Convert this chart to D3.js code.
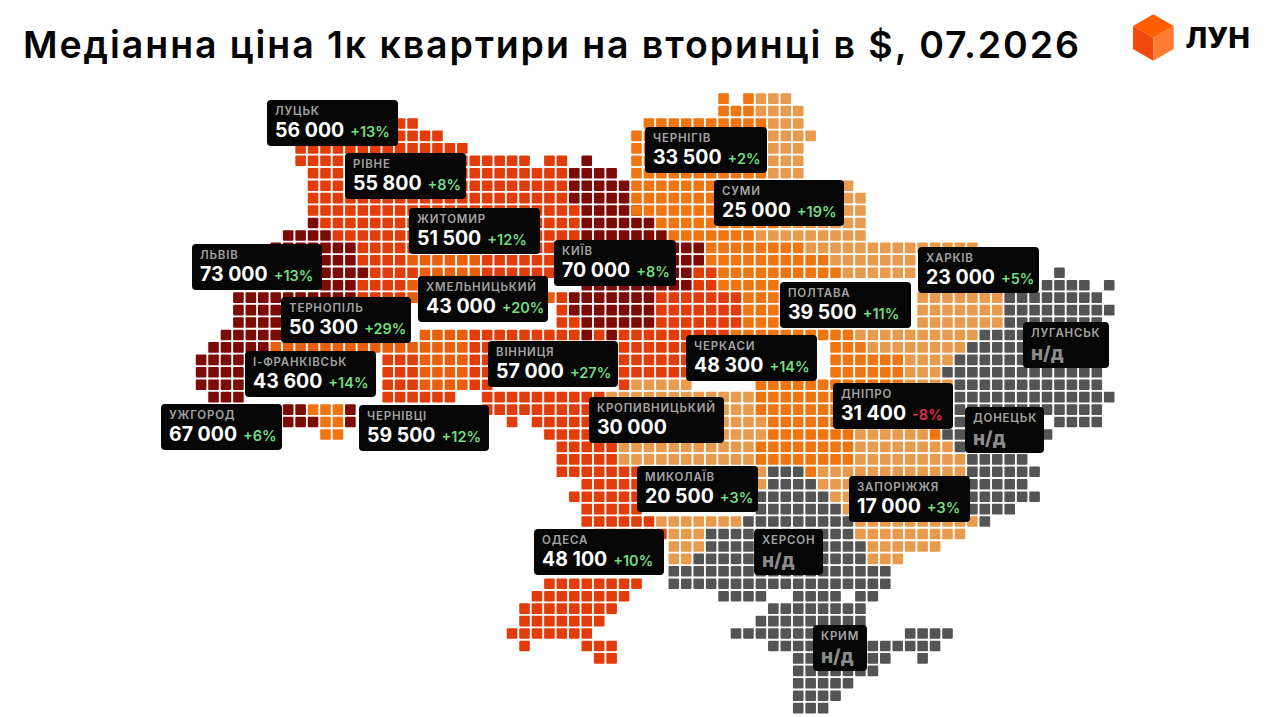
<!DOCTYPE html>
<html lang="uk">
<head>
<meta charset="utf-8">
<title>Медіанна ціна 1к квартири на вторинці</title>
<script src="https://cdn.jsdelivr.net/npm/d3@7/dist/d3.min.js"></script>
<style>
  body { margin: 0; background: #fff; }
  svg { display: block; }
  text { font-family: Inter, "Noto Sans", sans-serif; }
</style>
</head>
<body>
<script>
// map cells, one list per price band: [row, first column, last column]
const maroonCells = [
  [5,31,31],[6,30,33],[7,30,34],[8,30,34],[9,31,35],[10,9,9],[10,31,36],[11,7,10],[11,31,37],
  [12,6,12],[12,31,40],[13,10,12],[13,31,40],[14,10,13],[14,31,39],[15,10,12],[15,31,39],
  [16,3,12],[16,30,36],[17,3,6],[17,30,36],[18,3,6],[18,31,36],[19,2,6],[19,31,31],[19,33,33],
  [20,1,5],[21,0,3],[22,0,3],[23,0,3],[24,1,3],[25,7,8],[25,12,12],[26,7,9],[26,12,12]
]
const redCells = [
  [2,16,17],[3,16,19],[4,8,21],[5,8,26],[5,28,29],[6,9,29],[7,9,29],[8,9,29],[9,9,30],
  [10,10,30],[11,11,30],[12,13,30],[13,13,16],[13,23,30],[14,14,17],[14,23,30],[14,40,41],
  [15,13,16],[15,40,41],[16,13,16],[16,29,29],[16,37,43],[17,29,29],[17,37,43],[18,29,30],[18,37,43],
  [19,22,30],[19,32,32],[19,34,42],[20,22,23],[20,34,39],[21,15,17],[21,22,23],[21,34,39],
  [22,15,17],[22,22,23],[22,34,39],[23,15,17],[23,22,23],[23,34,34],[24,15,20],[24,23,32],
  [25,23,32],[26,25,25],[26,27,31],[27,28,31],[28,29,33],[29,29,33],[30,29,35],[31,31,35],
  [32,30,35],[33,31,35],[34,31,36],[35,32,37],[39,28,35],[40,27,34],[41,26,33],[42,26,32],
  [43,25,31],[44,26,26],[44,31,33],[45,32,33]
]
const deepOrangeCells = [
  [13,17,22],[14,18,22],[15,17,18],[16,17,28],[19,18,21],[20,6,21],[21,18,21],[22,18,21],[23,18,21]
]
const orangeCells = [
  [0,42,42],[0,44,44],[1,42,44],[2,36,45],[3,35,45],[4,35,45],[5,35,45],[6,35,45],[7,35,45],
  [8,35,46],[9,35,46],[10,37,46],[11,38,44],[12,41,48],[13,41,50],[14,42,51],
  [15,42,46],[16,44,46],[17,44,46],[18,44,46],[19,43,52],
  [20,51,53],[21,51,56],[22,51,56],[23,45,56],
  [24,45,56],[25,9,11],[25,45,56],[26,10,11],[26,46,52],[27,10,11],[27,46,52],[27,59,59],
  [28,45,52],[29,45,52],[30,49,49]
]
const lightCells = [
  [0,45,47],[1,45,48],[2,46,48],[3,46,49],[4,46,48],[5,46,48],[6,46,48],[7,46,52],[8,47,53],
  [9,47,53],[10,47,53],[11,45,53],[12,49,62],[13,51,57],[14,52,57],[16,58,64],[17,58,64],[18,58,64],
  [19,53,62],[20,54,61],[21,57,60],[22,57,59],[23,35,39],[23,57,60],[24,33,44],[24,57,60],
  [25,33,44],[25,57,60],[26,42,45],[26,53,60],[27,42,45],[27,53,58],[28,34,44],[28,53,60],
  [29,34,44],[29,53,61],[30,45,45],[30,50,61],[31,45,45],[31,50,61],[32,51,61],[33,52,61],
  [34,37,43],[34,53,62],[35,38,40],[35,53,61],[36,38,40],[36,54,59],[37,38,39],[37,54,56]
]
const noDataCells = [
  [14,69,69],[15,68,71],[15,73,73],[16,65,72],[17,65,73],[18,65,72],[19,63,66],[20,62,66],[21,61,66],
  [22,60,72],[23,61,72],[24,61,73],[25,61,72],[26,61,61],[26,69,72],[27,60,61],[27,68,68],[28,61,61],
  [29,62,66],[30,46,48],[30,62,67],[31,46,49],[31,62,66],[32,45,50],[32,62,67],[33,45,51],[33,62,65],
  [34,44,52],[34,63,63],[35,41,52],[36,41,53],[37,40,53],[38,38,55],[39,38,55],
  [40,42,45],[40,48,51],[40,53,54],[41,46,53],[42,45,53],[43,43,53],[43,57,60],[44,46,59],
  [45,48,55],[45,58,58],[46,48,54],[47,48,52],[48,48,51],[49,48,50]
]

// cards
const cities = ["ЛУЦЬК","РІВНЕ","ЖИТОМИР","ЛЬВІВ","ЧЕРНІГІВ","СУМИ","КИЇВ","ХАРКІВ","ПОЛТАВА","ЛУГАНСЬК","ТЕРНОПІЛЬ","ХМЕЛЬНИЦЬКИЙ","І-ФРАНКІВСЬК","УЖГОРОД","ЧЕРНІВЦІ","ВІННИЦЯ","ЧЕРКАСИ","КРОПИВНИЦЬКИЙ","МИКОЛАЇВ","ДНІПРО","ДОНЕЦЬК","ЗАПОРІЖЖЯ","ОДЕСА","ХЕРСОН","КРИМ"]
const prices = ["56 000","55 800","51 500","73 000","33 500","25 000","70 000","23 000","39 500",null,"50 300","43 000","43 600","67 000","59 500","57 000","48 300","30 000","20 500","31 400",null,"17 000","48 100",null,null]
const changes = ["+13%","+8%","+12%","+13%","+2%","+19%","+8%","+5%","+11%",null,"+29%","+20%","+14%","+6%","+12%","+27%","+14%",null,"+3%","-8%",null,"+3%","+10%",null,null]

// card boxes on the page, same order as cities: left, top, right
const cardBoxes = [[267,100,398],[345,153,466],[409,208,540],[192,244,322],[645,127,767],[714,180,844],[554,240,676],[918,247,1039],[780,282,911],[1023,322,1109],[281,297,411],[418,276,548],[245,351,376],[161,404,282],[359,405,489],[488,341,618],[686,335,817],[589,397,724],[637,466,758],[833,383,953],[965,407,1044],[849,476,970],[534,529,664],[754,529,823],[813,625,867]]
const cardHeight = 46

const width = 1271, height = 717

const x = d3.scaleBand().domain(d3.range(74)).range([195.8, 195.8 + 73 * 12.44 + 10.6]).paddingInner(0.148)
const y = d3.scaleBand().domain(d3.range(50)).range([93.3, 93.3 + 49 * 12.44 + 10.6]).paddingInner(0.148)

const color = d3.scaleOrdinal()
  .domain(["maroon", "red", "deepOrange", "orange", "light", "nodata"])
  .range(["#7c0a05", "#e23c0b", "#ea5f0e", "#ee7510", "#e89b4d", "#545454"])

const expand = (band, runs) => runs.flatMap(([row, from, to]) =>
  d3.range(from, to + 1).map(col => ({row, col, band})))

const cells = [
  ...expand("maroon", maroonCells),
  ...expand("red", redCells),
  ...expand("deepOrange", deepOrangeCells),
  ...expand("orange", orangeCells),
  ...expand("light", lightCells),
  ...expand("nodata", noDataCells)
]

const svg = d3.select("body").append("svg")
  .attr("width", width)
  .attr("height", height)

svg.append("text")
  .attr("x", 23)
  .attr("y", 58)
  .attr("font-size", 37.5)
  .attr("font-weight", 600)
  .attr("fill", "#050505")
  .attr("textLength", 1056)
  .attr("lengthAdjust", "spacing")
  .text("Медіанна ціна 1к квартири на вторинці в $, 07.2026")

// logo
const logo = svg.append("g")
logo.append("polygon").attr("points", "1153.3,14.3 1173.7,26 1153.3,37.7 1133,26").attr("fill", "#ff5f00")
logo.append("polygon").attr("points", "1133,26 1153.3,37.7 1153.3,60.7 1133,49").attr("fill", "#f34a0e")
logo.append("polygon").attr("points", "1173.7,26 1153.3,37.7 1153.3,60.7 1173.7,49").attr("fill", "#ff7a33")
logo.append("text")
  .attr("x", 1185.5)
  .attr("y", 47.7)
  .attr("font-size", 29)
  .attr("font-weight", 800)
  .attr("fill", "#050505")
  .text("ЛУН")

svg.append("g")
  .selectAll("rect")
  .data(cells)
  .join("rect")
    .attr("x", d => x(d.col))
    .attr("y", d => y(d.row))
    .attr("width", x.bandwidth())
    .attr("height", y.bandwidth())
    .attr("rx", 1)
    .attr("fill", d => color(d.band))

const card = svg.append("g")
  .selectAll("g")
  .data(cities.map((name, i) => ({name, price: prices[i], change: changes[i], box: cardBoxes[i]})))
  .join("g")
    .attr("transform", d => `translate(${d.box[0]},${d.box[1]})`)

card.append("rect")
  .attr("width", d => d.box[2] - d.box[0])
  .attr("height", cardHeight)
  .attr("rx", 4)
  .attr("fill", "#060606")

card.append("text")
  .attr("x", 8)
  .attr("y", 15)
  .attr("font-size", 11.5)
  .attr("font-weight", 600)
  .attr("letter-spacing", 0.8)
  .attr("fill", "#a3a3a3")
  .text(d => d.name)

const value = card.append("text")
  .attr("x", 8)
  .attr("y", d => d.price ? 37 : 38)

value.append("tspan")
  .attr("font-size", d => d.price ? 19.5 : 19)
  .attr("font-weight", d => d.price ? 700 : 800)
  .attr("fill", d => d.price ? "#fff" : "#8c8c8c")
  .text(d => d.price || "н/д")

value.filter(d => d.change).append("tspan")
  .attr("dx", 6)
  .attr("font-size", 14.5)
  .attr("font-weight", 600)
  .attr("fill", d => d.change[0] === "-" ? "#e0304e" : "#72dd80")
  .text(d => d.change)
</script>
</body>
</html>
